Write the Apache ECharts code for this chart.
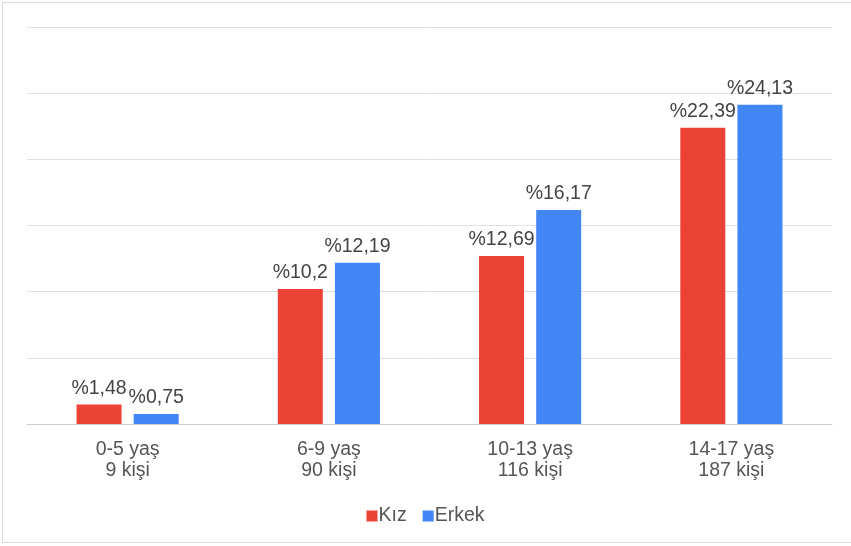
<!DOCTYPE html>
<html>
<head>
    <meta charset="utf-8" />
    <title></title>
    <script type="text/javascript" src="https://cdn.jsdelivr.net/npm/echarts@6/dist/echarts.min.js"></script>
    <style>
        html, body { margin: 0; padding: 0; background: #fff; }
        #frame {
            position: absolute; left: 2px; top: 2px; width: 849px; height: 541px;
            border: 1px solid #dcdcdc; border-right: none; box-sizing: border-box;
        }
        #con1 { position: absolute; left: 0; top: 0; width: 851px; height: 546px; }
    </style>
</head>
<body>
    <div id="frame"></div>
    <div id="con1"></div>
    <script type="text/javascript">
        var categories = ["0-5 yaş\n9 kişi", "6-9 yaş\n90 kişi", "10-13 yaş\n116 kişi", "14-17 yaş\n187 kişi"];
        var kiz = [1.48, 10.2, 12.69, 22.39];
        var erkek = [0.75, 12.19, 16.17, 24.13];
        var seriesNames = ["Kız", "Erkek"];

        function pct(p) {
            return "%" + String(p.value).replace(".", ",");
        }

        var myChart1 = echarts.init(document.getElementById("con1"));
        var option1 = {
            animation: false,
            textStyle: { fontFamily: "Liberation Sans, Arial, sans-serif" },
            grid: { left: 27, right: 19, top: 27, bottom: 122 },
            legend: {
                bottom: 15,
                left: 'center',
                itemWidth: 11,
                itemHeight: 11,
                itemGap: 16,
                icon: 'rect',
                textStyle: { fontSize: 19.5, color: '#555', padding: [0, 0, 0, -4] },
                data: seriesNames
            },
            xAxis: {
                type: 'category',
                data: categories,
                axisLine: { lineStyle: { color: '#cccccc' } },
                axisTick: { show: false },
                axisLabel: { fontSize: 19.5, color: '#555', lineHeight: 21, margin: 15 }
            },
            yAxis: {
                type: 'value',
                min: 0,
                max: 30,
                interval: 5,
                axisLabel: { show: false },
                axisLine: { show: false },
                axisTick: { show: false },
                splitLine: { lineStyle: { color: '#e0e0e0', width: 1 } }
            },
            series: [
                {
                    name: seriesNames[0],
                    type: 'bar',
                    data: kiz,
                    barWidth: 45,
                    barGap: '27%',
                    itemStyle: { color: '#ea4335' },
                    label: { show: true, position: 'top', distance: 6, fontSize: 19.5, color: '#444', formatter: pct }
                },
                {
                    name: seriesNames[1],
                    type: 'bar',
                    data: erkek,
                    barWidth: 45,
                    itemStyle: { color: '#4285f4' },
                    label: { show: true, position: 'top', distance: 6, fontSize: 19.5, color: '#444', formatter: pct }
                }
            ]
        };
        option1 && myChart1.setOption(option1);
    </script>
</body>
</html>
